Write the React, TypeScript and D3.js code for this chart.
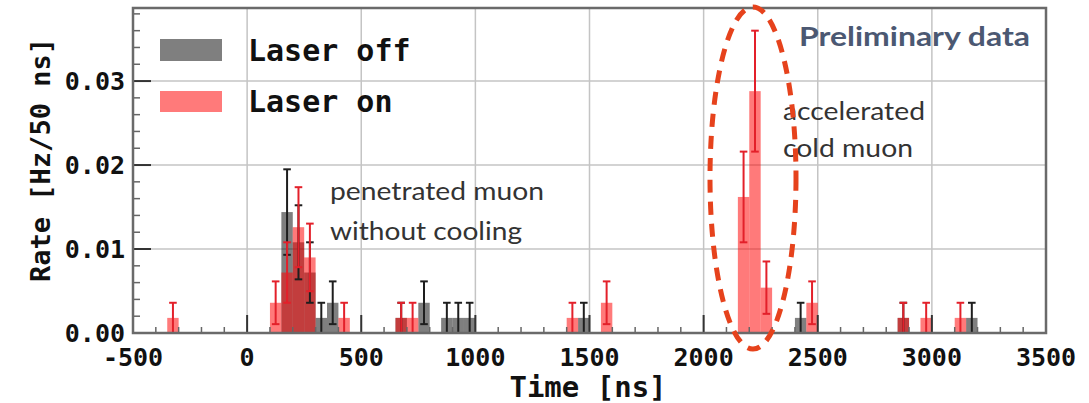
import React from "react";
import * as d3 from "d3";

// histogram, 50 ns bins, counts
const BIN_WIDTH = 50;
const RATE_PER_COUNT = 0.0018; // Hz / 50 ns for one event

const offBins = [150, 200, 250, 300, 350, 650, 750, 850, 900, 950, 1450, 2400, 2850, 3150];
const offCounts = [8, 6, 4, 1, 2, 1, 2, 1, 1, 1, 1, 1, 1, 1];

const onBins = [-350, 100, 150, 200, 250, 400, 650, 700, 1400, 1550, 2150, 2200, 2250, 2450, 2850, 2950, 3100];
const onCounts = [1, 2, 4, 7, 5, 1, 1, 1, 1, 2, 9, 16, 3, 2, 1, 1, 1];

const xTicks = [-500, 0, 500, 1000, 1500, 2000, 2500, 3000, 3500];
const yTicks = [0, 0.01, 0.02, 0.03];
const yTickLabels = ["0.00", "0.01", "0.02", "0.03"];

const W = 1089;
const H = 403;
const M = { left: 133, right: 1046, top: 8, bottom: 333 };

const mono = "'DejaVu Sans Mono', monospace";
const sans = "Lato, 'Open Sans', sans-serif";

type Bin = { start: number; count: number; rate: number; err: number };

function buildBins(starts: number[], counts: number[]): Bin[] {
  const all: Bin[] = [];
  for (let s = -500; s < 3500; s += BIN_WIDTH) {
    const i = starts.indexOf(s);
    const c = i >= 0 ? counts[i] : 0;
    all.push({ start: s, count: c, rate: c * RATE_PER_COUNT, err: Math.sqrt(c) * RATE_PER_COUNT });
  }
  return all;
}

export default function App() {
  const x = d3.scaleLinear().domain([-500, 3500]).range([M.left, M.right]);
  const y = d3.scaleLinear().domain([0, 0.0387]).range([M.bottom, M.top]);

  const off = buildBins(offBins, offCounts);
  const on = buildBins(onBins, onCounts);

  const minorX = d3.range(-400, 3500, 100).filter((t) => t % 500 !== 0);
  const minorY = d3.range(0.002, 0.0387, 0.002).filter((v) => Math.abs(v * 100 - Math.round(v * 100)) > 1e-6);

  const bars = (data: Bin[], fill: string) =>
    data
      .filter((d) => d.count > 0)
      .map((d) => (
        <rect
          key={d.start}
          x={x(d.start)}
          width={x(d.start + BIN_WIDTH) - x(d.start)}
          y={y(d.rate)}
          height={y(0) - y(d.rate)}
          fill={fill}
        />
      ));

  const errs = (data: Bin[], color: string) =>
    data.map((d) => {
      const cx = x(d.start + BIN_WIDTH / 2);
      const y1 = y(Math.max(0, d.rate - d.err));
      const y2 = y(d.rate + d.err);
      const cw = 3.8;
      return (
        <g key={d.start} stroke={color}>
          {d.count > 0 && <line x1={cx} x2={cx} y1={y1} y2={y2} strokeWidth={2} />}
          <line x1={cx - cw} x2={cx + cw} y1={y2} y2={y2} strokeWidth={d.count > 0 ? 2 : 1.4} />
          <line x1={cx - cw} x2={cx + cw} y1={y1} y2={y1} strokeWidth={d.count > 0 ? 2 : 1.4} />
        </g>
      );
    });

  return (
    <svg width={W} height={H} style={{ position: "absolute", left: 0, top: 0, background: "#fff" }}>
      {/* grid */}
      <g stroke="#c4c4c4" strokeWidth={1.5}>
        {xTicks.slice(1, -1).map((t) => (
          <line key={t} x1={x(t)} x2={x(t)} y1={M.top} y2={M.bottom} />
        ))}
        {yTicks.slice(1).map((v) => (
          <line key={v} x1={M.left} x2={M.right} y1={y(v)} y2={y(v)} />
        ))}
      </g>

      {/* bars */}
      <g>{bars(off, "rgba(0,0,0,0.5)")}</g>
      <g>{bars(on, "rgba(255,0,0,0.52)")}</g>

      {/* error bars */}
      <g>{errs(off, "#1e1e1e")}</g>
      <g>{errs(on, "#e3202a")}</g>

      {/* ticks */}
      <g stroke="#333" strokeWidth={2}>
        {xTicks.map((t) => (
          <line key={t} x1={x(t)} x2={x(t)} y1={M.bottom} y2={M.bottom - 18} />
        ))}
        {yTicks.map((v) => (
          <line key={v} x1={M.left} x2={M.left + 18} y1={y(v)} y2={y(v)} />
        ))}
      </g>
      <g stroke="#666" strokeWidth={1.5}>
        {minorX.map((t) => (
          <line key={t} x1={x(t)} x2={x(t)} y1={M.bottom} y2={M.bottom - 6} />
        ))}
        {minorY.map((v) => (
          <line key={v} x1={M.left} x2={M.left + 7} y1={y(v)} y2={y(v)} />
        ))}
      </g>

      {/* frame */}
      <rect
        x={M.left}
        y={M.top}
        width={M.right - M.left}
        height={M.bottom - M.top}
        fill="none"
        stroke="#6a6a6a"
        strokeWidth={2.5}
      />

      {/* tick labels */}
      <g fontFamily={mono} fontWeight="bold" fontSize={25} fill="#111">
        {xTicks.map((t) => (
          <text key={t} x={x(t)} y={366} textAnchor="middle">
            {t}
          </text>
        ))}
        {yTicks.map((v, i) => (
          <text key={v} x={125} y={y(v) + 9} textAnchor="end">
            {yTickLabels[i]}
          </text>
        ))}
      </g>

      {/* axis titles */}
      <text
        transform={`translate(50,160) rotate(-90)`}
        textAnchor="middle"
        fontFamily={mono}
        fontWeight="bold"
        fontSize={27}
        fill="#111"
      >
        Rate [Hz/50 ns]
      </text>
      <text x={588} y={397} textAnchor="middle" fontFamily={mono} fontWeight="bold" fontSize={29} fill="#111">
        Time [ns]
      </text>

      {/* legend */}
      <rect x={160} y={39} width={62} height={22} fill="rgba(0,0,0,0.5)" />
      <rect x={160} y={91} width={62} height={21} fill="rgba(255,0,0,0.52)" />
      <g fontFamily={mono} fontWeight="bold" fontSize={30} fill="#111">
        <text x={248} y={61}>Laser off</text>
        <text x={248} y={112}>Laser on</text>
      </g>

      {/* annotations */}
      <g fontFamily={sans} fontSize={25} fill="#333">
        <text x={330} y={200} textLength={214} lengthAdjust="spacingAndGlyphs">penetrated muon</text>
        <text x={330} y={240} textLength={192} lengthAdjust="spacingAndGlyphs">without cooling</text>
        <text x={783} y={120} textLength={142} lengthAdjust="spacingAndGlyphs">accelerated</text>
        <text x={783} y={157} textLength={130} lengthAdjust="spacingAndGlyphs">cold muon</text>
      </g>
      <text
        x={799}
        y={46}
        fontFamily={sans}
        fontWeight="bold"
        fontSize={27}
        fill="#4b5872"
        textLength={231}
        lengthAdjust="spacingAndGlyphs"
      >
        Preliminary data
      </text>

      {/* highlight of the cold muon peak */}
      <ellipse
        cx={753}
        cy={178}
        rx={43}
        ry={171}
        fill="none"
        stroke="#e6421c"
        strokeWidth={5}
        strokeDasharray="13 9"
      />
    </svg>
  );
}
